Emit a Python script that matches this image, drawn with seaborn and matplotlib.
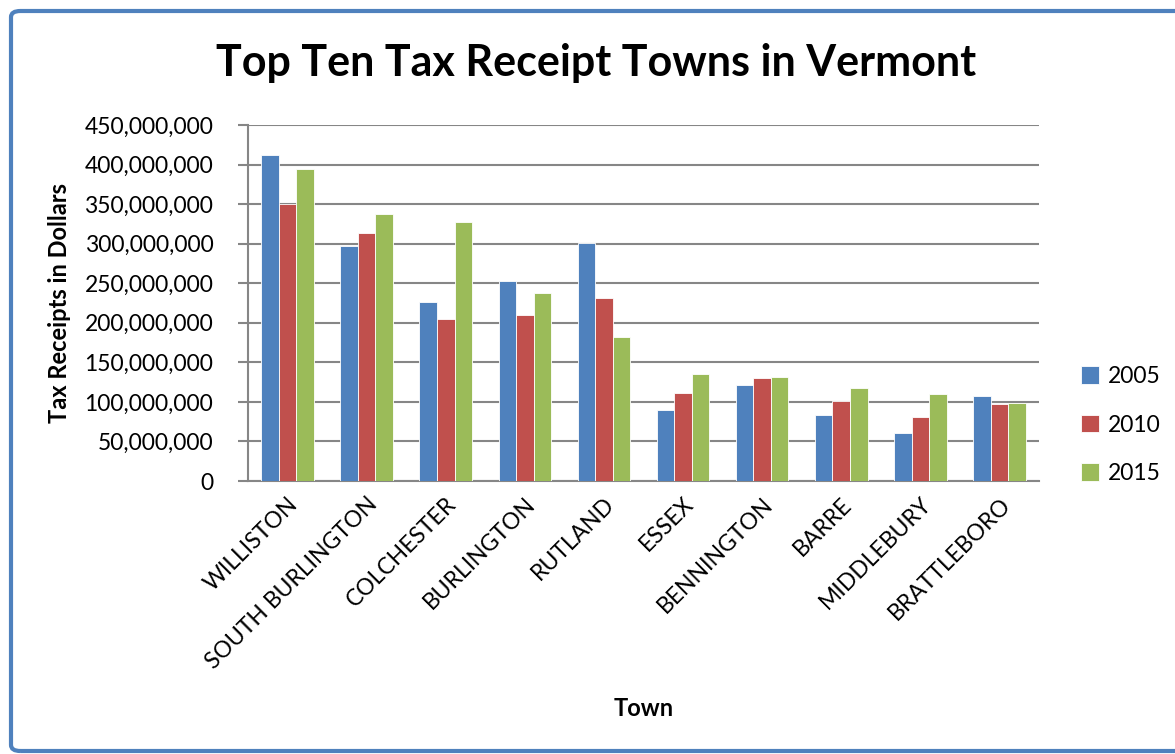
import numpy as np
import pandas as pd
import matplotlib
matplotlib.use("Agg")
import matplotlib.pyplot as plt
import matplotlib.ticker as mtick
from matplotlib.patches import FancyBboxPatch
import seaborn as sns

# ==========================================
# DATA
# ==========================================
towns = ['WILLISTON', 'SOUTH BURLINGTON', 'COLCHESTER', 'BURLINGTON', 'RUTLAND',
         'ESSEX', 'BENNINGTON', 'BARRE', 'MIDDLEBURY', 'BRATTLEBORO']
years = ['2005', '2010', '2015']
receipts_2005 = [412e6, 297e6, 226e6, 253e6, 301e6, 90e6, 121e6, 83e6, 61e6, 108e6]
receipts_2010 = [350e6, 313e6, 205e6, 210e6, 231e6, 111e6, 130e6, 101e6, 81e6, 97e6]
receipts_2015 = [395e6, 337e6, 328e6, 238e6, 182e6, 135e6, 132e6, 118e6, 110e6, 99e6]
y_ticks = np.arange(0, 450e6 + 1, 50e6)

# ==========================================
# STYLING
# ==========================================
sns.set_theme(style="white")
plt.rcParams['font.family'] = ['Lato', 'DejaVu Sans']
for key in ['text.color', 'axes.labelcolor', 'xtick.color', 'ytick.color']:
    plt.rcParams[key] = 'black'

year_palette = {
    '2005': '#4F81BD',  # blue
    '2010': '#C0504D',  # red
    '2015': '#9BBB59',  # green
}
grid_gray = '#868686'

df = pd.DataFrame({
    'Town': towns * 3,
    'Year': [years[0]] * 10 + [years[1]] * 10 + [years[2]] * 10,
    'Receipts': receipts_2005 + receipts_2010 + receipts_2015,
})

fig = plt.figure(figsize=(11.75, 7.54), dpi=100)
ax = fig.add_axes([248 / 1175, 1 - 481 / 754, (1039 - 248) / 1175, (481 - 125) / 754])

sns.barplot(data=df, x='Town', y='Receipts', hue='Year', order=towns, hue_order=years,
            palette=year_palette, width=0.665, gap=0, edgecolor='white', linewidth=0.6,
            saturation=1, ax=ax, zorder=3)

ax.set_ylim(0, 450e6)
ax.set_xlim(-0.5, len(towns) - 0.5)
ax.set_yticks(y_ticks)
ax.yaxis.set_major_formatter(mtick.StrMethodFormatter('{x:,.0f}'))
ax.yaxis.grid(True, color=grid_gray, linewidth=1.5, zorder=0)
ax.set_axisbelow(True)

# spines: only left and bottom, gray
for side in ['top', 'right']:
    ax.spines[side].set_visible(False)
for side in ['left', 'bottom']:
    ax.spines[side].set_color(grid_gray)
    ax.spines[side].set_linewidth(1.5)

# ticks between categories on x, outside ticks on y
ax.set_xticks(np.arange(-0.5, len(towns), 1), minor=True)
ax.tick_params(axis='x', which='major', length=0, pad=9, labelsize=16.5)
ax.tick_params(axis='x', which='minor', length=7, width=1.5, color=grid_gray, direction='out')
ax.tick_params(axis='y', length=7, width=1.5, color=grid_gray, direction='out', pad=18,
               labelsize=16.5, left=True)
plt.setp(ax.get_xticklabels(), rotation=45, ha='right', rotation_mode='anchor')

ax.set_xlabel('')
ax.set_ylabel('Tax Receipts in Dollars', fontsize=17, fontweight='bold')
ax.yaxis.set_label_coords((71 - 248) / 791, 0.5)
ax.text(0.5, (481 - 708) / 356, 'Town', transform=ax.transAxes,
        ha='center', va='center', fontsize=17, fontweight='bold')

fig.text(596 / 1175, 1 - 63 / 754, 'Top Ten Tax Receipt Towns in Vermont',
         ha='center', va='center', fontsize=31, fontweight='bold')

leg = ax.legend(loc='center left', bbox_to_anchor=(1.0265, 0.157), frameon=False,
                fontsize=16.5, handlelength=0.8, handleheight=0.8, handletextpad=0.4,
                labelspacing=1.2)

# blue rounded frame around the chart (right side runs off the image)
frame = FancyBboxPatch((11 / 1175, 3 / 754), 1.2, 1 - 14 / 754,
                       boxstyle='round,pad=0,rounding_size=0.008',
                       transform=fig.transFigure, fill=False,
                       edgecolor='#4F81BD', linewidth=3, clip_on=False)
fig.patches.append(frame)

fig.savefig('out.png', dpi=100)
